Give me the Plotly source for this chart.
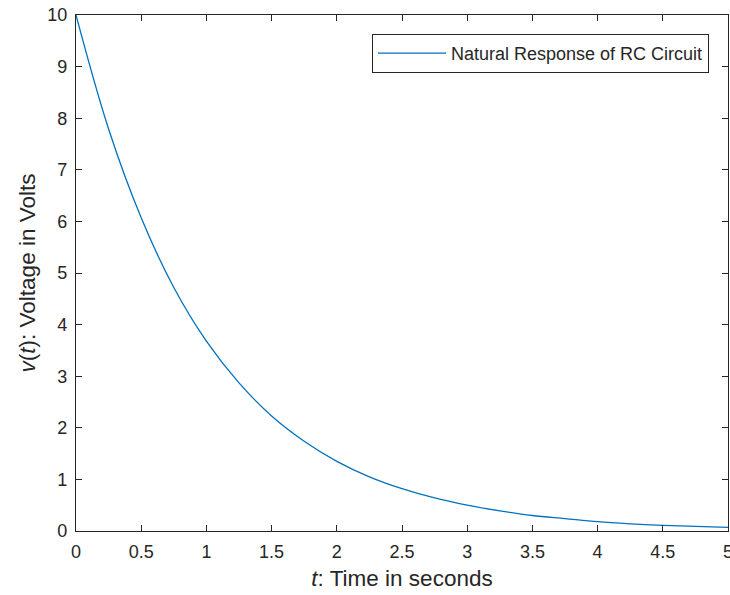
import plotly.graph_objects as go

t_values = [0, 0.25, 0.5, 0.75, 1.0, 1.25, 1.5, 1.75, 2.0, 2.25, 2.5, 2.75, 3.0,
            3.25, 3.5, 3.75, 4.0, 4.25, 4.5, 4.75, 5.0]
v_values = [10.0, 7.79, 6.07, 4.72, 3.68, 2.87, 2.23, 1.74, 1.35, 1.05, 0.82, 0.64, 0.50,
            0.39, 0.30, 0.24, 0.18, 0.14, 0.11, 0.09, 0.07]
x_ticks = [0, 0.5, 1, 1.5, 2, 2.5, 3, 3.5, 4, 4.5, 5]
x_tick_labels = ["0", "0.5", "1", "1.5", "2", "2.5", "3", "3.5", "4", "4.5", "5"]
y_ticks = list(range(0, 11))
series_name = "Natural Response of RC Circuit"

axis_color = "#262626"
font_family = "Liberation Sans, Arial, sans-serif"

fig = go.Figure()
fig.add_trace(go.Scatter(
    x=t_values, y=v_values, mode="lines", name=series_name,
    line=dict(color="#0072BD", width=1.3, shape="spline", smoothing=1.0),
    showlegend=True,
))

common_axis = dict(
    showline=True, linecolor=axis_color, linewidth=1.3, mirror="ticks",
    ticks="inside", ticklen=6, tickwidth=1.3, tickcolor=axis_color,
    showgrid=False, zeroline=False, automargin=False,
    ticklabeloverflow="allow",
    tickfont=dict(family=font_family, size=18, color=axis_color),
)

fig.update_layout(
    width=730, height=595,
    margin=dict(l=76, r=2, t=15, b=64),
    paper_bgcolor="white", plot_bgcolor="white",
    font=dict(family=font_family, color=axis_color),
    xaxis=dict(range=[0, 5], tickvals=x_ticks, ticktext=x_tick_labels,
               ticklabelstandoff=4,
               title=dict(text="<i>t</i>: Time in seconds",
                          font=dict(family=font_family, size=22.5, color=axis_color),
                          standoff=9),
               **common_axis),
    yaxis=dict(range=[0, 10], tickvals=y_ticks,
               ticklabelstandoff=4,
               title=dict(text="<i>v</i>(<i>t</i>): Voltage in Volts",
                          font=dict(family=font_family, size=22.5, color=axis_color),
                          standoff=5),
               **common_axis),
    legend=dict(
        x=1 - 19 / 652, y=1 - 19 / 516, xanchor="right", yanchor="top",
        bgcolor="white", bordercolor=axis_color, borderwidth=1,
        itemwidth=68,
        font=dict(family=font_family, size=18, color=axis_color),
    ),
)

fig.write_html("out.html", config={"displayModeBar": False},
               post_script="document.body.style.margin='0px';")
